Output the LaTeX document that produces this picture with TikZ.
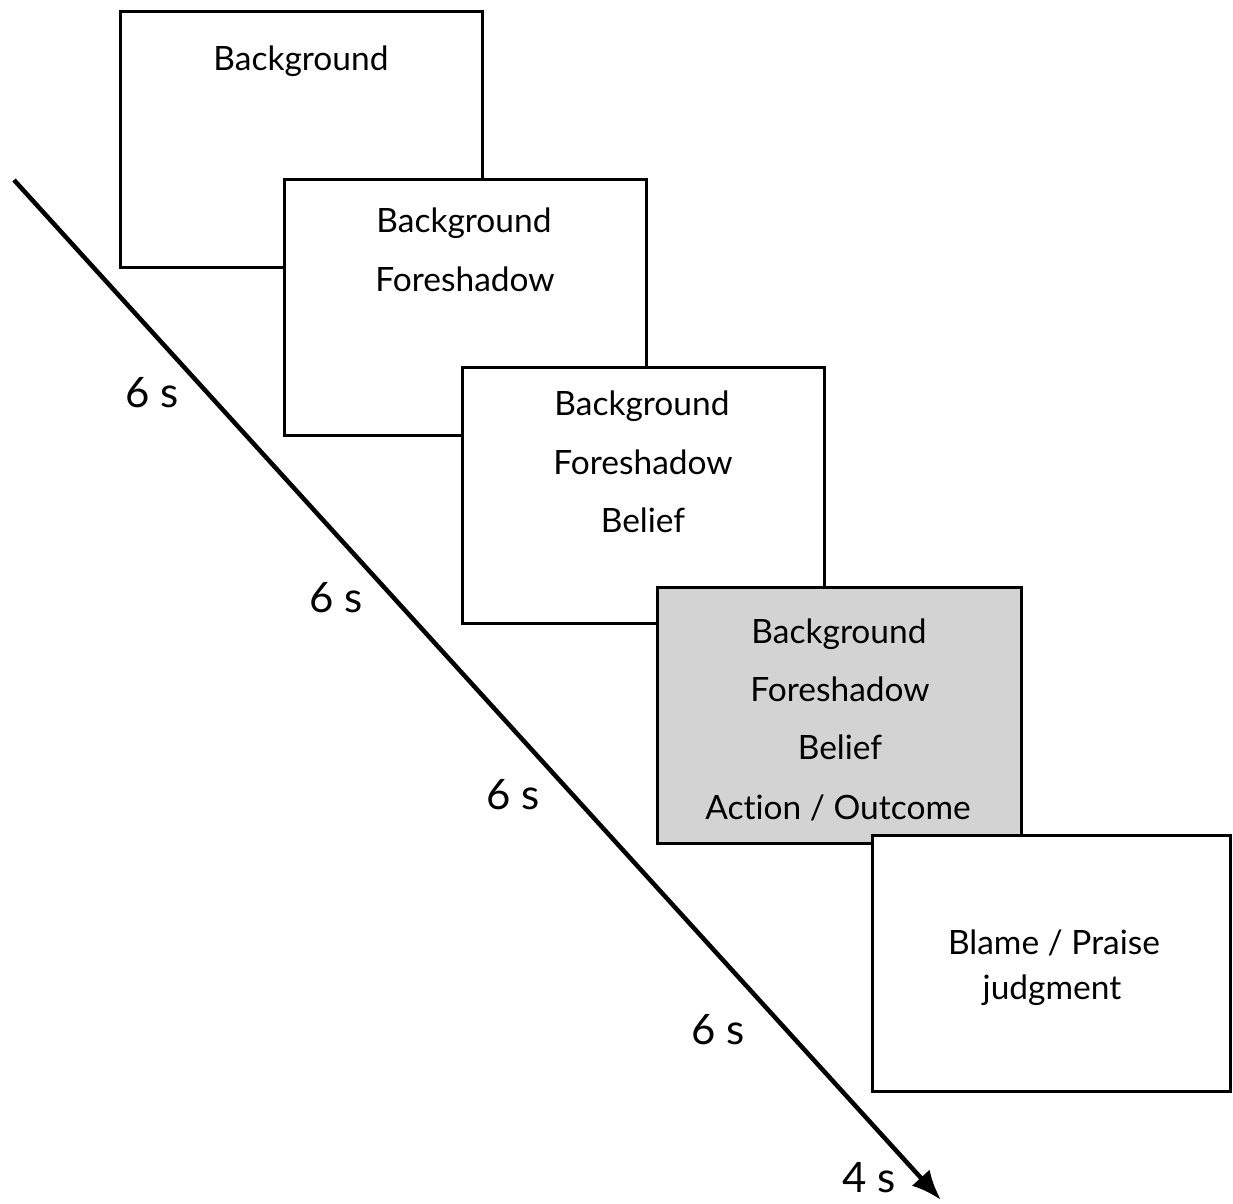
\documentclass[tikz,border=0pt]{standalone}
\usepackage{fontspec}
\setmainfont{Lato}[Ligatures={NoCommon}]
\usetikzlibrary{arrows.meta}
\definecolor{boxgray}{HTML}{D3D3D3}
\tikzset{
  frame/.style={draw=black, line width=3pt, fill=white},
  lbl/.style={font=\fontsize{33.5}{40}\selectfont, inner sep=0pt, anchor=base},
  tlbl/.style={font=\fontsize{42}{48}\selectfont, inner sep=0pt, anchor=base}
}
\begin{document}
\begin{tikzpicture}[x=1pt,y=-1pt]
\useasboundingbox (0,0) rectangle (1233,1203);
% boxes
\draw[frame] (120,11) rectangle (482,267);
\node[lbl] (b1a) at (301,70) {Background};
\draw[frame] (284,179) rectangle (646,435);
\node[lbl] (b2a) at (464,232) {Background};
\node[lbl] (b2b) at (465,291) {Foreshadow};
\draw[frame] (462,367) rectangle (824,623);
\node[lbl] (b3a) at (642,415) {Background};
\node[lbl] (b3b) at (643,474) {Foreshadow};
\node[lbl] (b3c) at (643,532) {Belief};
\draw[frame, fill=boxgray] (657,587) rectangle (1021,843);
\node[lbl] (b4a) at (839,643) {Background};
\node[lbl] (b4b) at (840,701) {Foreshadow};
\node[lbl] (b4c) at (840,759) {Belief};
\node[lbl] (b4d) at (838,819) {Action / Outcome};
\draw[frame] (872,835) rectangle (1230,1091);
\node[lbl] (b5a) at (1054,954) {Blame / Praise};
\node[lbl] (b5b) at (1052,999) {judgment};
% time arrow
\coordinate (tstart) at (14,180);
\coordinate (tend) at (941,1200);
\draw[line width=4.5pt, -{Latex[length=30pt,width=24pt]}] (tstart) -- (tend);
\node[tlbl] (t1) at (152,407) {6 s};
\node[tlbl] (t2) at (336,612) {6 s};
\node[tlbl] (t3) at (513,809) {6 s};
\node[tlbl] (t4) at (718,1044) {6 s};
\node[tlbl] (t5) at (869,1192) {4 s};
\end{tikzpicture}
\end{document}
